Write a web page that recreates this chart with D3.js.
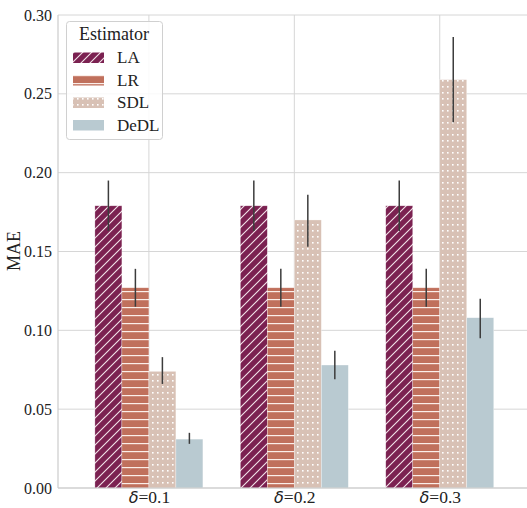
<!DOCTYPE html>
<html>
<head>
<meta charset="utf-8">
<script src="https://cdn.jsdelivr.net/npm/d3@7/dist/d3.min.js"></script>
<style>
  html, body { margin: 0; padding: 0; background: #fff; }
  svg, svg text { font-family: "Liberation Serif", "Times New Roman", serif; }
</style>
</head>
<body>
<svg id="chart" width="527" height="508"></svg>
<script>
// Groups along the x axis
const groups = ["0.1", "0.2", "0.3"];
// Estimators (legend order)
const estimators = ["LA", "LR", "SDL", "DeDL"];
// Mean absolute error per estimator, one value per group
const meanLA   = [0.179, 0.179, 0.179];
const meanLR   = [0.127, 0.127, 0.127];
const meanSDL  = [0.074, 0.170, 0.259];
const meanDeDL = [0.031, 0.078, 0.108];
// Error bar extents (low, high)
const lowLA    = [0.163, 0.163, 0.163];
const highLA   = [0.195, 0.195, 0.195];
const lowLR    = [0.115, 0.115, 0.115];
const highLR   = [0.139, 0.139, 0.139];
const lowSDL   = [0.066, 0.153, 0.232];
const highSDL  = [0.083, 0.186, 0.286];
const lowDeDL  = [0.028, 0.069, 0.095];
const highDeDL = [0.035, 0.087, 0.120];
// Y tick values
const yTicks = [0.00, 0.05, 0.10, 0.15, 0.20, 0.25, 0.30];

const means = { LA: meanLA, LR: meanLR, SDL: meanSDL, DeDL: meanDeDL };
const lows  = { LA: lowLA, LR: lowLR, SDL: lowSDL, DeDL: lowDeDL };
const highs = { LA: highLA, LR: highLR, SDL: highSDL, DeDL: highDeDL };

const colors = { LA: "#7b2151", LR: "#c0705c", SDL: "#d8c1b5", DeDL: "#b9cad1" };
const SERIF = '"Liberation Serif", "Times New Roman", serif';
const MATH = '"DejaVu Sans", sans-serif';

const svg = d3.select("#chart");
const margin = { left: 58, top: 15 };
const W = 527;
const plotBottom = 488;

const x = d3.scaleLinear().domain([-0.625, 2.6]).range([margin.left, W]);
const y = d3.scaleLinear().domain([0, 0.30]).range([plotBottom, margin.top]);
const barW = 27;
const offset = d3.scaleBand().domain(estimators).range([-2 * barW, 2 * barW]);

// Hatch patterns
const defs = svg.append("defs");
const pLA = defs.append("pattern").attr("id", "hatch-LA").attr("patternUnits", "userSpaceOnUse")
  .attr("width", 9).attr("height", 9);
pLA.append("rect").attr("width", 9).attr("height", 9).attr("fill", colors.LA);
pLA.append("path").attr("d", "M-1,10 L10,-1 M-3,3 L3,-3 M6,12 L12,6")
  .attr("stroke", "#f3e3ea").attr("stroke-width", 1.1);

const pLR = defs.append("pattern").attr("id", "hatch-LR").attr("patternUnits", "userSpaceOnUse")
  .attr("width", 8).attr("height", 8);
pLR.append("rect").attr("width", 8).attr("height", 8).attr("fill", colors.LR);
pLR.append("rect").attr("y", 3).attr("width", 8).attr("height", 1.2).attr("fill", "#fbeee9");

const pSDL = defs.append("pattern").attr("id", "hatch-SDL").attr("patternUnits", "userSpaceOnUse")
  .attr("width", 5).attr("height", 6);
pSDL.append("rect").attr("width", 5).attr("height", 6).attr("fill", colors.SDL);
pSDL.append("rect").attr("x", 2).attr("y", 2).attr("width", 1.6).attr("height", 1.6).attr("fill", "#ffffff");

const fills = { LA: "url(#hatch-LA)", LR: "url(#hatch-LR)", SDL: "url(#hatch-SDL)", DeDL: colors.DeDL };

// Grid
const grid = svg.append("g");
grid.selectAll("line.h").data(yTicks).join("line")
  .attr("x1", margin.left).attr("x2", W)
  .attr("y1", d => y(d)).attr("y2", d => y(d))
  .attr("stroke", "#d6d6d6").attr("stroke-width", 1);
grid.selectAll("line.v").data(groups).join("line")
  .attr("x1", (d, i) => x(i)).attr("x2", (d, i) => x(i))
  .attr("y1", margin.top).attr("y2", plotBottom)
  .attr("stroke", "#d6d6d6").attr("stroke-width", 1);

// Bars
const bars = svg.append("g");
estimators.forEach(est => {
  bars.selectAll(null).data(means[est]).join("rect")
    .attr("x", (d, i) => x(i) + offset(est))
    .attr("width", offset.bandwidth())
    .attr("y", d => y(d))
    .attr("height", d => plotBottom - y(d))
    .attr("fill", fills[est])
    .attr("stroke", "#ffffff").attr("stroke-opacity", 0.5).attr("stroke-width", 0.6);
});

// Error bars
const errs = svg.append("g");
estimators.forEach(est => {
  errs.selectAll(null).data(means[est]).join("line")
    .attr("x1", (d, i) => x(i) + offset(est) + offset.bandwidth() / 2)
    .attr("x2", (d, i) => x(i) + offset(est) + offset.bandwidth() / 2)
    .attr("y1", (d, i) => y(lows[est][i]))
    .attr("y2", (d, i) => y(highs[est][i]))
    .attr("stroke", "#3c3c3c").attr("stroke-width", 1.5);
});

// Axes spines
svg.append("line").attr("x1", margin.left).attr("x2", margin.left)
  .attr("y1", margin.top).attr("y2", plotBottom).attr("stroke", "#cccccc").attr("stroke-width", 1.2);
svg.append("line").attr("x1", margin.left).attr("x2", W)
  .attr("y1", plotBottom).attr("y2", plotBottom).attr("stroke", "#cccccc").attr("stroke-width", 1.2);

// Y axis labels
const yAxis = d3.axisLeft(y).tickValues(yTicks).tickFormat(d3.format(".2f")).tickSize(0).tickPadding(6);
const yg = svg.append("g").attr("transform", `translate(${margin.left},0)`).call(yAxis)
  .attr("font-family", null);
yg.select(".domain").remove();
yg.selectAll("text").style("font-family", SERIF).style("font-size", "16px").attr("fill", "#222");

// X axis labels: italic delta followed by the group value
const xAxis = d3.axisBottom(x).tickValues([0, 1, 2]).tickFormat(() => "").tickSize(0).tickPadding(3);
const xg = svg.append("g").attr("transform", `translate(0,${plotBottom})`).call(xAxis)
  .attr("font-family", null);
xg.select(".domain").remove();
xg.selectAll(".tick text").each(function (d, i) {
  const t = d3.select(this).style("font-family", SERIF).style("font-size", "17.5px").attr("fill", "#222")
    .attr("dy", "0.71em");
  t.append("tspan").style("font-family", MATH).style("font-style", "italic").style("font-size", "16px").text("δ");
  t.append("tspan").text("=" + groups[i]);
});

// Y axis title
svg.append("text").attr("transform", "translate(20,251) rotate(-90)")
  .attr("text-anchor", "middle").style("font-family", SERIF).style("font-size", "18px")
  .attr("fill", "#222").text("MAE");

// Legend
const lg = svg.append("g");
lg.append("rect").attr("x", 66.5).attr("y", 21.5).attr("width", 96).attr("height", 118)
  .attr("rx", 3).attr("fill", "#ffffff").attr("fill-opacity", 0.85)
  .attr("stroke", "#d0d0d0").attr("stroke-width", 1);
lg.append("text").attr("x", 114).attr("y", 40).attr("text-anchor", "middle")
  .style("font-family", SERIF).style("font-size", "18px").attr("fill", "#222").text("Estimator");
estimators.forEach((est, i) => {
  const cy = 57.5 + i * 22.5;
  lg.append("rect").attr("x", 73).attr("y", cy - 5).attr("width", 31).attr("height", 10.5)
    .attr("fill", fills[est]);
  lg.append("text").attr("x", 117).attr("y", cy + 5.5)
    .style("font-family", SERIF).style("font-size", "17px")
    .attr("fill", "#222").text(est);
});
</script>
</body>
</html>
